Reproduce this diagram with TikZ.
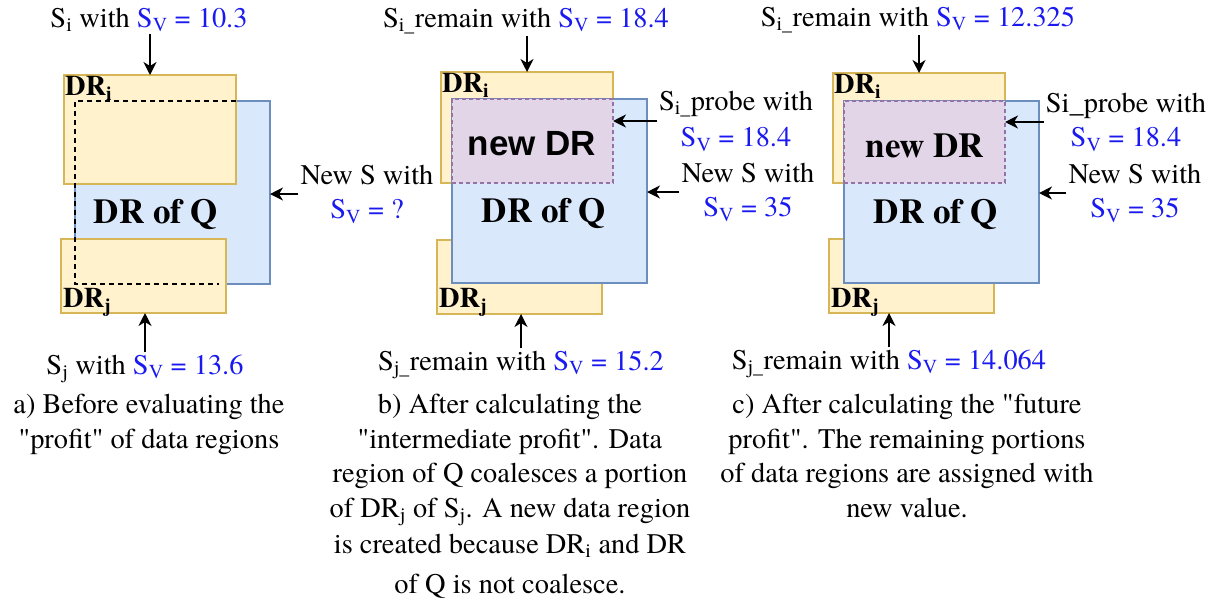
\documentclass[tikz,border=0pt]{standalone}
\usepackage{fontspec}
\IfFontExistsTF{texgyretermes-regular.otf}
  {\setmainfont{texgyretermes}[Extension=.otf, UprightFont=*-regular,
     BoldFont=*-bold, ItalicFont=*-italic, BoldItalicFont=*-bolditalic]}
  {\setmainfont{Liberation Serif}}
\newfontfamily\arialbold{Liberation Sans}
\usetikzlibrary{arrows.meta,calc}
\definecolor{drfill}{HTML}{FFF2CC}
\definecolor{drline}{HTML}{D6B656}
\definecolor{qfill}{HTML}{DAE8FC}
\definecolor{qline}{HTML}{6C8EBF}
\definecolor{ndfill}{HTML}{E1D5E7}
\definecolor{ndline}{HTML}{9673A6}
\definecolor{valblue}{HTML}{1A1AF0}
\newcommand{\Sv}{S\textsubscript{V}}
\newcommand{\sval}[1]{\textcolor{valblue}{\Sv{} = #1}}
\newcommand{\dq}{\textquotedbl}
\tikzset{
    drbox/.style={draw=drline, fill=drfill, line width=1.2pt, anchor=north west,
        inner sep=0pt, outer sep=0pt},
    qbox/.style={draw=qline, fill=qfill, line width=1.2pt, anchor=north west,
        inner sep=0pt, outer sep=0pt},
    ndbox/.style={draw=ndline, fill=ndfill, line width=1.2pt, dash pattern=on 4pt off 3pt,
        anchor=north west, inner sep=0pt, outer sep=0pt},
    txt/.style={font=\fontsize{28.4}{34.5}\selectfont, inner sep=2pt, align=center},
    drtag/.style={font=\fontsize{28.4}{34}\selectfont\bfseries, inner sep=1pt},
    bigtag/.style={font=\fontsize{35}{40}\selectfont\bfseries, inner sep=0pt, anchor=base},
    sarrow/.style={-{Stealth[length=13pt,width=13pt,inset=4pt]}, line width=1.4pt}
}

\begin{document}
\begin{tikzpicture}[x=1pt,y=-1pt]
\useasboundingbox (0,0) rectangle (1222,600);

% a) before evaluating
\node[qbox, minimum width=195, minimum height=183] (qa) at (75,101) {};
\node[drbox, minimum width=172, minimum height=109] (dria) at (64,75) {};
\node[drbox, minimum width=165, minimum height=74] (drja) at (61,239) {};
\node[drtag, anchor=north west] at (dria.north west) {DR\textsubscript{i}};
\node[drtag, anchor=base west] at ($(drja.south west)+(1,-6)$) {DR\textsubscript{j}};
\node[bigtag] at (156,223) {DR of Q};
\draw[line width=1.4pt, dash pattern=on 5pt off 4pt]
    (dria.east |- qa.north) -- (qa.north west) -- (qa.south west) -- ($(drja.east |- qa.south)+(-7,0)$);
\node[txt, anchor=base] (topa) at (149,27) {S\textsubscript{i} with \sval{10.3}};
\draw[sarrow] (topa.south -| dria.north) -- (dria.north);
\node[txt] (newsa) at (367,194) {New S with\\\sval{?}};
\draw[sarrow] (newsa.west) -- (newsa.west -| qa.east);
\node[txt, anchor=base] (bota) at (145,374) {S\textsubscript{j} with \sval{13.6}};
\draw[sarrow] (bota.north) -- (bota.north |- drja.south);
\node[txt, anchor=north, inner sep=0pt] (capa) at (149,394)
    {a) Before evaluating the\\\dq profit\dq{} of data regions};

% b) intermediate profit
\node[drbox, minimum width=172, minimum height=111] (drib) at (441,72) {};
\node[drtag, anchor=north west] at (drib.north west) {DR\textsubscript{i}};
\node[drbox, minimum width=165, minimum height=74] (drjb) at (437,240) {};
\node[drtag, anchor=base west] at ($(drjb.south west)+(1,-7)$) {DR\textsubscript{j}};
\node[qbox, minimum width=195, minimum height=184] (qb) at (452,99) {};
\node[ndbox, minimum width=161, minimum height=84] (ndrb) at (452,99) {};
\node[bigtag, font=\fontsize{35}{40}\selectfont\arialbold\bfseries] at (532,155) {new DR};
\node[bigtag] at (544,222) {DR of Q};
\node[txt, anchor=base] (topb) at (526,27) {S\textsubscript{i\_}remain with \sval{18.4}};
\draw[sarrow] (topb.south -| drib.north) -- (drib.north);
\node[txt] (probeb) at (736,121) {S\textsubscript{i\_}probe with\\[2pt]\sval{18.4}};
\draw[sarrow] (probeb.west) -- (probeb.west -| ndrb.east);
\node[txt] (newsb) at (748,192) {New S with\\\sval{35}};
\draw[sarrow] (newsb.west) -- (newsb.west -| qb.east);
\node[txt, anchor=base] (botb) at (521,370) {S\textsubscript{j\_}remain with \sval{15.2}};
\draw[sarrow] (botb.north) -- (botb.north |- drjb.south);
\node[txt, anchor=north, inner sep=0pt] (capb) at (510,394)
    {b) After calculating the\\\dq intermediate profit\dq. Data\\region of Q coalesces a portion\\
     of DR\textsubscript{j} of S\textsubscript{j}. A new data region\\[2pt]
     is created because DR\textsubscript{i} and DR\\[5pt]of Q is not coalesce.};

% c) future profit
\node[drbox, minimum width=172, minimum height=110] (dric) at (833,73) {};
\node[drtag, anchor=north west] at (dric.north west) {DR\textsubscript{i}};
\node[drbox, minimum width=165, minimum height=74] (drjc) at (829,239) {};
\node[drtag, anchor=base west] at ($(drjc.south west)+(1,-6)$) {DR\textsubscript{j}};
\node[qbox, minimum width=195, minimum height=182] (qc) at (844,101) {};
\node[ndbox, minimum width=161, minimum height=82] (ndrc) at (844,101) {};
\node[bigtag] at (925,157) {new DR};
\node[bigtag] at (936,223) {DR of Q};
\node[txt, anchor=base] (topc) at (918,26) {S\textsubscript{i\_}remain with \sval{12.325}};
\draw[sarrow] (topc.south -| dric.north) -- (dric.north);
\node[txt] (probec) at (1126,122) {Si\_probe with\\\sval{18.4}};
\draw[sarrow] (probec.west) -- (probec.west -| ndrc.east);
\node[txt] (newsc) at (1135,193) {New S with\\\sval{35}};
\draw[sarrow] (newsc.west) -- (newsc.west -| qc.east);
\node[txt, anchor=base] (botc) at (889,369) {S\textsubscript{j\_}remain with \sval{14.064}};
\draw[sarrow] (botc.north) -- (botc.north |- drjc.south);
\node[txt, anchor=north, inner sep=0pt] (capc) at (907,394)
    {c) After calculating the \dq future\\profit\dq. The remaining portions\\
     of data regions are assigned with\\new value.};
\end{tikzpicture}
\end{document}
